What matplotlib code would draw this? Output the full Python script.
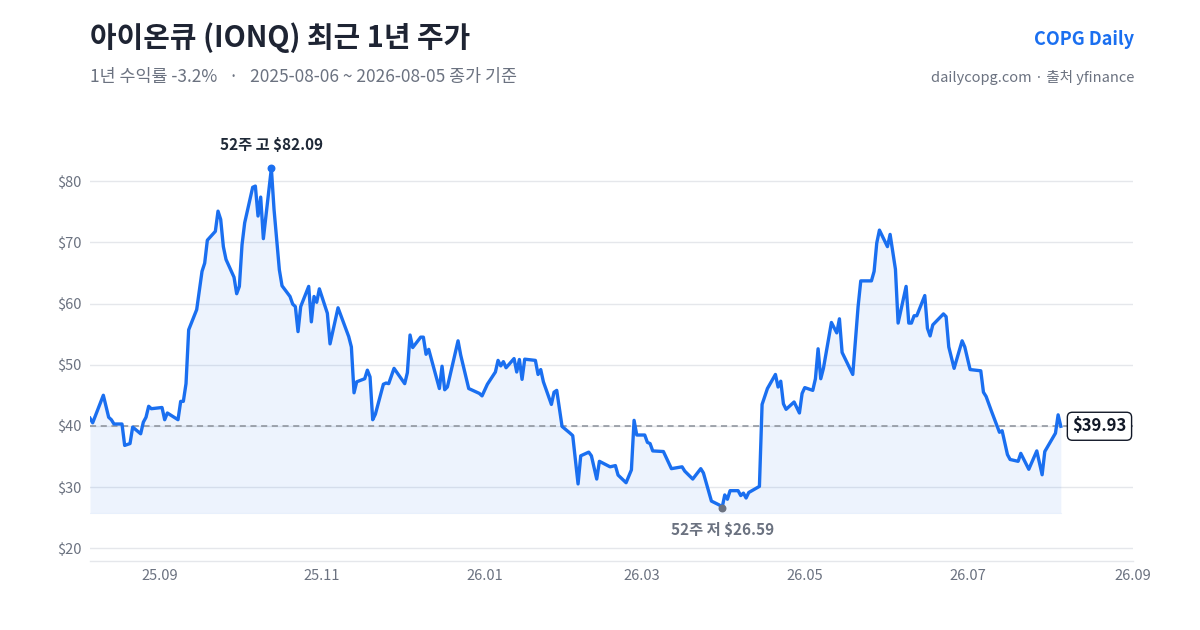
import matplotlib
matplotlib.use("Agg")
import matplotlib.pyplot as plt
import pandas as pd
import numpy as np

plt.rcParams['font.family'] = ['Noto Sans CJK KR', 'DejaVu Sans']

dates = [
    "2025-08-06", "2025-08-07", "2025-08-11", "2025-08-13", "2025-08-14", "2025-08-15",
    "2025-08-18", "2025-08-19", "2025-08-21", "2025-08-22", "2025-08-25", "2025-08-26",
    "2025-08-27", "2025-08-28", "2025-08-29", "2025-09-02", "2025-09-03", "2025-09-04",
    "2025-09-08", "2025-09-09", "2025-09-10", "2025-09-11", "2025-09-12", "2025-09-15",
    "2025-09-17", "2025-09-18", "2025-09-19", "2025-09-22", "2025-09-23", "2025-09-24",
    "2025-09-25", "2025-09-26", "2025-09-29", "2025-09-30", "2025-10-01", "2025-10-02",
    "2025-10-03", "2025-10-06", "2025-10-07", "2025-10-08", "2025-10-09", "2025-10-10",
    "2025-10-13", "2025-10-14", "2025-10-16", "2025-10-17", "2025-10-20", "2025-10-21",
    "2025-10-22", "2025-10-23", "2025-10-24", "2025-10-27", "2025-10-28", "2025-10-29",
    "2025-10-30", "2025-10-31", "2025-11-03", "2025-11-04", "2025-11-07", "2025-11-11",
    "2025-11-12", "2025-11-13", "2025-11-14", "2025-11-17", "2025-11-18", "2025-11-19",
    "2025-11-20", "2025-11-21", "2025-11-24", "2025-11-25", "2025-11-26", "2025-11-28",
    "2025-12-02", "2025-12-03", "2025-12-04", "2025-12-05", "2025-12-08", "2025-12-09",
    "2025-12-10", "2025-12-11", "2025-12-15", "2025-12-16", "2025-12-17", "2025-12-18",
    "2025-12-22", "2025-12-23", "2025-12-26", "2025-12-29", "2025-12-30", "2025-12-31",
    "2026-01-02", "2026-01-05", "2026-01-06", "2026-01-07", "2026-01-08", "2026-01-09",
    "2026-01-12", "2026-01-13", "2026-01-14", "2026-01-15", "2026-01-16", "2026-01-20",
    "2026-01-21", "2026-01-22", "2026-01-23", "2026-01-26", "2026-01-27", "2026-01-28",
    "2026-01-30", "2026-02-02", "2026-02-03", "2026-02-05", "2026-02-06", "2026-02-09",
    "2026-02-10", "2026-02-12", "2026-02-13", "2026-02-17", "2026-02-19", "2026-02-20",
    "2026-02-23", "2026-02-25", "2026-02-26", "2026-02-27", "2026-03-02", "2026-03-03",
    "2026-03-04", "2026-03-05", "2026-03-09", "2026-03-12", "2026-03-16", "2026-03-17",
    "2026-03-20", "2026-03-23", "2026-03-24", "2026-03-27", "2026-03-30", "2026-03-31",
    "2026-04-01", "2026-04-02", "2026-04-03", "2026-04-06", "2026-04-07", "2026-04-08",
    "2026-04-09", "2026-04-10", "2026-04-14", "2026-04-15", "2026-04-17", "2026-04-20",
    "2026-04-21", "2026-04-22", "2026-04-23", "2026-04-24", "2026-04-27", "2026-04-29",
    "2026-04-30", "2026-05-01", "2026-05-04", "2026-05-05", "2026-05-06", "2026-05-07",
    "2026-05-08", "2026-05-11", "2026-05-13", "2026-05-14", "2026-05-15", "2026-05-19",
    "2026-05-20", "2026-05-21", "2026-05-22", "2026-05-26", "2026-05-27", "2026-05-28",
    "2026-05-29", "2026-06-01", "2026-06-02", "2026-06-04", "2026-06-05", "2026-06-08",
    "2026-06-09", "2026-06-10", "2026-06-11", "2026-06-12", "2026-06-15", "2026-06-16",
    "2026-06-17", "2026-06-18", "2026-06-22", "2026-06-23", "2026-06-24", "2026-06-26",
    "2026-06-29", "2026-06-30", "2026-07-02", "2026-07-06", "2026-07-07", "2026-07-08",
    "2026-07-10", "2026-07-13", "2026-07-14", "2026-07-16", "2026-07-17", "2026-07-20",
    "2026-07-21", "2026-07-24", "2026-07-27", "2026-07-29", "2026-07-30", "2026-08-03",
    "2026-08-04", "2026-08-05",
]

prices = [
    41.25, 40.5, 45.0, 41.4, 41.0, 40.3,
    40.3, 36.8, 37.1, 39.8, 38.7, 40.6,
    41.4, 43.2, 42.8, 43.0, 41.0, 42.1,
    41.0, 44.0, 44.0, 46.9, 55.7, 59.0,
    65.25, 66.6, 70.35, 71.8, 75.1, 73.75,
    69.3, 67.2, 64.3, 61.6, 62.8, 69.6,
    73.2, 79.0, 79.2, 74.3, 77.4, 70.6,
    82.09, 75.4, 65.5, 62.9, 61.15, 59.9,
    59.5, 55.4, 59.5, 62.8, 57.0, 61.15,
    60.2, 62.4, 58.4, 53.4, 59.3, 54.6,
    52.9, 45.4, 47.2, 47.7, 49.1, 48.0,
    41.0, 41.9, 46.8, 47.0, 46.9, 49.4,
    46.9, 48.7, 54.85, 52.8, 54.5, 54.5,
    51.7, 52.5, 46.1, 49.75, 45.9, 46.35,
    53.9, 51.56, 46.1, 45.5, 45.3, 44.9,
    46.8, 48.8, 50.7, 49.8, 50.5, 49.5,
    51.0, 48.8, 50.85, 47.6, 50.9, 50.7,
    48.4, 49.2, 47.2, 43.5, 45.5, 45.8,
    39.9, 38.8, 38.4, 30.5, 35.1, 35.7,
    35.1, 31.3, 34.2, 33.3, 33.5, 31.95,
    30.7, 32.8, 40.9, 38.5, 38.5, 37.3,
    37.1, 35.9, 35.8, 33.0, 33.3, 32.6,
    31.3, 33.0, 32.3, 27.7, 27.05, 26.59,
    28.7, 28.0, 29.4, 29.4, 28.6, 29.0,
    28.2, 29.1, 30.1, 43.5, 46.1, 48.4,
    46.35, 47.3, 43.6, 42.7, 43.9, 42.1,
    45.3, 46.25, 45.8, 47.7, 52.6, 47.7,
    49.4, 56.9, 55.2, 57.5, 52.0, 48.4,
    54.0, 59.5, 63.7, 63.7, 65.25, 69.9,
    72.0, 69.3, 71.3, 65.6, 56.8, 62.8,
    56.8, 56.8, 58.0, 58.0, 61.3, 55.95,
    54.7, 56.5, 58.3, 57.85, 52.9, 49.4,
    53.9, 52.9, 49.2, 49.0, 45.5, 44.8,
    42.4, 38.95, 39.2, 35.3, 34.5, 34.2,
    35.5, 32.9, 35.9, 32.0, 35.8, 38.8,
    41.8, 39.93,
]

y_ticks = [20, 30, 40, 50, 60, 70, 80]
x_tick_dates = ["2025-09-01", "2025-11-01", "2026-01-01", "2026-03-01",
                "2026-05-01", "2026-07-01", "2026-09-01"]
x_tick_labels = ["25.09", "25.11", "26.01", "26.03", "26.05", "26.07", "26.09"]

title = "아이온큐 (IONQ) 최근 1년 주가"
subtitle = "1년 수익률 -3.2%   ·   2025-08-06 ~ 2026-08-05 종가 기준"
brand = "COPG Daily"
source = "dailycopg.com · 출처 yfinance"

BLUE = "#1a6ff0"
GREY_TXT = "#6b7280"
DARK = "#1f2937"

d = pd.to_datetime(dates)
p = np.array(prices)

fig = plt.figure(figsize=(12, 6.3), dpi=100)
ax = fig.add_axes([0.075, 0.1095, 0.869, 0.70])

base = p.min() * 0.97
ax.fill_between(d, p, base, color=BLUE, alpha=0.08, linewidth=0)
ax.plot([d[0], d[-1]], [base, base], color=BLUE, alpha=0.08, lw=0.8)
ax.plot(d, p, color=BLUE, lw=2.4, solid_joinstyle='round', zorder=3)

last = p[-1]
ax.axhline(last, color="#8a8f98", lw=1.1, ls=(0, (4, 3)), zorder=2)

imax = int(np.argmax(p))
imin = int(np.argmin(p))
ax.scatter([d[imax]], [p[imax]], s=22, color=BLUE, zorder=4)
ax.scatter([d[imin]], [p[imin]], s=22, color="#6b7280", zorder=4)
ax.annotate(f"52주 고 ${p[imax]:.2f}", (d[imax], p[imax]), xytext=(0, 17),
            textcoords="offset points", ha="center", va="center",
            fontsize=11, fontweight="bold", color=DARK)
ax.annotate(f"52주 저 ${p[imin]:.2f}", (d[imin], p[imin]), xytext=(0, -16),
            textcoords="offset points", ha="center", va="center",
            fontsize=11, fontweight="bold", color="#6b7280")

ax.annotate(f"${last:.2f}", (1.0, last), xycoords=("axes fraction", "data"),
            xytext=(-24, 0), textcoords="offset points", ha="center", va="center",
            fontsize=12, fontweight="bold", color="#111827",
            bbox=dict(boxstyle="round,pad=0.3,rounding_size=0.3", fc="white",
                      ec="#111827", lw=1.0))

ax.set_xlim(pd.Timestamp("2025-08-06"), pd.Timestamp("2026-09-01"))
ax.set_ylim(17.9, 90)
ax.set_yticks(y_ticks)
ax.set_yticklabels([f"${v}" for v in y_ticks])
ax.set_xticks(pd.to_datetime(x_tick_dates))
ax.set_xticklabels(x_tick_labels)
ax.grid(axis="y", color="#e5e7eb", lw=1.0)
ax.set_axisbelow(True)
for s in ["top", "right", "left"]:
    ax.spines[s].set_visible(False)
ax.spines["bottom"].set_color("#e5e7eb")
ax.spines["bottom"].set_linewidth(1.0)
ax.tick_params(axis="both", length=0, labelsize=10.5, colors="#6b7280", pad=6)

fig.text(0.075, 0.94, title, fontsize=20.8, fontweight="bold", color="#1e2433",
         ha="left", va="center")
fig.text(0.075, 0.878, subtitle, fontsize=12.5, color=GREY_TXT, ha="left", va="center")
fig.text(0.945, 0.937, brand, fontsize=13, fontweight="bold", color=BLUE,
         ha="right", va="center")
fig.text(0.945, 0.877, source, fontsize=10.5, color=GREY_TXT, ha="right", va="center")

fig.savefig("out.png", dpi=100, facecolor="white")
